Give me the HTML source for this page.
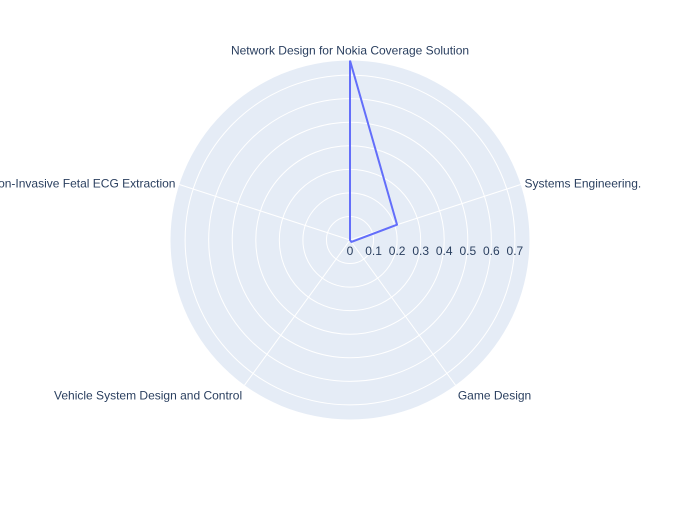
<!DOCTYPE html>
<html><head><meta charset="utf-8"><style>
body{margin:0;background:#fff;font-family:"Liberation Sans",sans-serif}
svg text{font-family:"Liberation Sans",sans-serif;font-size:12px;fill:#2a3f5f}
</style></head><body>
<svg id="chart" width="700" height="500"></svg>
<script>
const categories=["Network Design for Nokia Coverage Solution","Systems Engineering.","Game Design","Vehicle System Design and Control","Non-Invasive Fetal ECG Extraction"];
const values=[0.762,0.21,0.01,0,0];
const ticks=[0,0.1,0.2,0.3,0.4,0.5,0.6,0.7];
const rMax=0.762;
const cx=350,cy=240,R=179.5;
const NS="http://www.w3.org/2000/svg";
const svg=document.getElementById('chart');
function rad(v){return v/rMax*R;}
function ang(i){return (90-i*360/categories.length)*Math.PI/180;}
function pt(i,v){const a=ang(i),r=rad(v);return [cx+r*Math.cos(a),cy-r*Math.sin(a)];}
function mk(t,attrs){const e=document.createElementNS(NS,t);for(const k in attrs)e.setAttribute(k,attrs[k]);svg.appendChild(e);return e;}
const bg=mk('circle',{cx:cx,cy:cy,r:R,fill:'#e5ecf6'});


ticks.forEach(t=>{if(t===0)return;
 const c=mk('circle',{cx:cx,cy:cy,r:rad(t),fill:'none',stroke:'#fff','stroke-width':1});
 
 
});
categories.forEach((c,i)=>{
 const [x,y]=pt(i,rMax);
 const l=mk('line',{x1:cx,y1:cy,x2:x,y2:y,stroke:'#fff','stroke-width':1});
 
 
 const a=ang(i),cs=Math.cos(a),sn=Math.sin(a);
 const lx=cx+(R+4)*cs,ly=cy-(R+4)*sn;
 const t=mk('text',{x:lx,y:ly+4-(sn>0.9?6:0)+(sn<-0.5?7:0),'text-anchor':Math.abs(cs)<0.1?'middle':(cs>0?'start':'end')});
 t.textContent=c;
 
 
});
ticks.forEach(t=>{
 const x=cx+rad(t);
 const tx=mk('text',{x:x,y:cy+15,'text-anchor':'middle'});
 tx.textContent=String(t);
 
 
});
const pts=values.map((v,i)=>pt(i,v));
pts.push(pts[0]);
const p=mk('polyline',{points:pts.map(q=>q.join(',')).join(' '),fill:'none',stroke:'#636efa','stroke-width':2,'stroke-linejoin':'round'});


</script>
</body></html>
